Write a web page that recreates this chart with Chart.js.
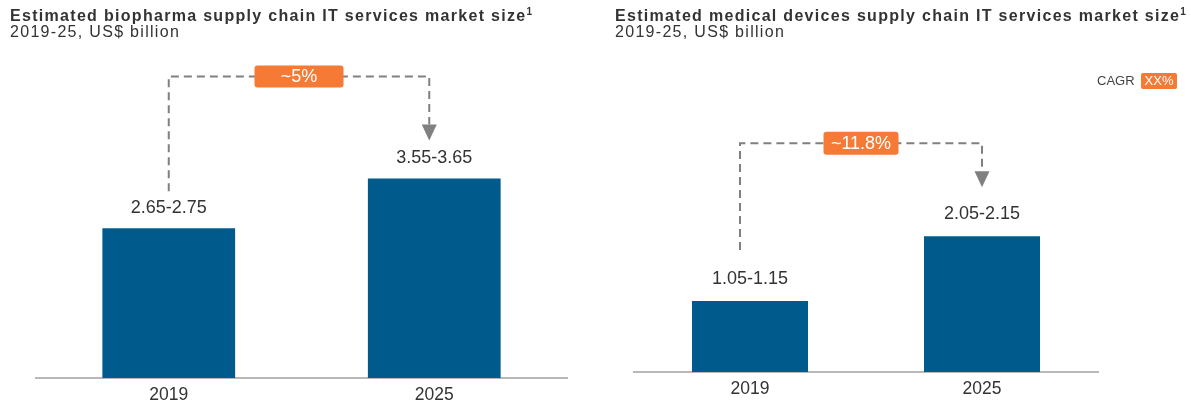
<!DOCTYPE html>
<html>
<head>
<meta charset="utf-8">
<script src="https://cdn.jsdelivr.net/npm/chart.js@4.4.1/dist/chart.umd.min.js"></script>
<style>
  html, body { margin: 0; padding: 0; background: #fff; }
  body { width: 1191px; height: 405px; position: relative; overflow: hidden; font-family: "Liberation Sans", Arial, sans-serif; color: #333; }
  .panel { position: absolute; top: 0; height: 417px; }
  .title { position: absolute; top: 6px; font-weight: bold; font-size: 16px; letter-spacing: 1.3px; white-space: nowrap; z-index: 2; line-height: 20px; }
  .title sup { font-size: 10px; letter-spacing: 0; line-height: 0; }
  .sub { position: absolute; top: 22px; font-size: 16px; letter-spacing: 1.3px; white-space: nowrap; z-index: 2; line-height: 20px; }
  .cagr { position: absolute; top: 73px; left: 1097px; font-size: 13px; line-height: 16px; color: #444; z-index: 2; }
  .cagr span { display: inline-block; background: #f47a36; color: #fff; padding: 0 4px; margin-left: 6px; font-size: 13px; border-radius: 2px; }
</style>
</head>
<body>
<div class="title" style="left:10px">Estimated biopharma supply chain IT services market size<sup>1</sup></div>
<div class="sub" style="left:10px">2019-25, US$ billion</div>
<div class="title" style="left:615px">Estimated medical devices supply chain IT services market size<sup>1</sup></div>
<div class="sub" style="left:615px">2019-25, US$ billion</div>
<div class="cagr">CAGR<span>XX%</span></div>

<div class="panel" style="left:0;width:595px"><canvas id="bioChart"></canvas></div>
<div class="panel" style="left:600px;width:591px"><canvas id="medChart"></canvas></div>

<script>
const years = ['2019', '2025'];
const bioValues = [2.70, 3.60];
const bioLabels = ['2.65-2.75', '3.55-3.65'];
const medValues = [1.10, 2.10];
const medLabels = ['1.05-1.15', '2.05-2.15'];
const bioCagr = '~5%';
const medCagr = '~11.8%';

const barColor = '#005a8c';
const orange = '#f47a36';
const dashGray = '#808080';

// value labels + dashed CAGR bracket with arrow
const bracketPlugin = {
  id: 'bracket',
  afterDatasetsDraw(chart, args, opts) {
    const ctx = chart.ctx;
    const bars = chart.getDatasetMeta(0).data;
    ctx.save();

    ctx.font = '18px "Liberation Sans", Arial, sans-serif';
    ctx.fillStyle = '#333';
    ctx.textAlign = 'center';
    ctx.textBaseline = 'middle';
    opts.labels.forEach((t, i) => {
      ctx.fillText(t, bars[i].x, bars[i].y - opts.labelGap);
    });

    const x0 = bars[0].x + opts.dx0;
    const x1 = bars[1].x + opts.dx1;
    const yTop = Math.min(bars[0].y, bars[1].y) - opts.rise;
    const yStart = bars[0].y - opts.startGap;
    const yTip = bars[1].y - opts.tipGap;
    const headH = 16;

    ctx.strokeStyle = dashGray;
    ctx.lineWidth = 2;
    ctx.setLineDash([8, 5]);
    ctx.beginPath();
    ctx.moveTo(x0, yStart);
    ctx.lineTo(x0, yTop);
    ctx.lineTo(x1, yTop);
    ctx.lineTo(x1, yTip - headH);
    ctx.stroke();
    ctx.setLineDash([]);

    ctx.fillStyle = dashGray;
    ctx.beginPath();
    ctx.moveTo(x1 - 7.5, yTip - headH);
    ctx.lineTo(x1 + 7.5, yTip - headH);
    ctx.lineTo(x1, yTip);
    ctx.closePath();
    ctx.fill();

    const mid = (x0 + x1) / 2;
    ctx.fillStyle = orange;
    ctx.beginPath();
    ctx.roundRect(mid - opts.boxW / 2, yTop - opts.boxH / 2, opts.boxW, opts.boxH, 3);
    ctx.fill();
    ctx.fillStyle = '#fff';
    ctx.font = '18px "Liberation Sans", Arial, sans-serif';
    ctx.fillText(opts.cagr, mid, yTop + 1);

    ctx.restore();
  }
};

function makeChart(id, values, labels, cagr, yMax, padding, tickPad, bracket) {
  const ctx = document.getElementById(id).getContext('2d');
  return new Chart(ctx, {
    type: 'bar',
    data: {
      labels: years,
      datasets: [{
        data: values,
        backgroundColor: barColor,
        barPercentage: 0.5,
        categoryPercentage: 1
      }]
    },
    options: {
      responsive: true,
      maintainAspectRatio: false,
      animation: false,
      layout: { padding },
      plugins: {
        legend: { display: false },
        tooltip: { enabled: false },
        bracket: Object.assign({ labels, cagr }, bracket)
      },
      scales: {
        x: {
          grid: { display: false, drawTicks: false },
          border: { display: true, color: '#b8b8b8', width: 2 },
          ticks: { color: '#333', font: { size: 17.5, family: '"Liberation Sans", Arial, sans-serif' }, padding: tickPad }
        },
        y: { display: false, min: 0, max: yMax }
      }
    },
    plugins: [bracketPlugin]
  });
}

makeChart('bioChart', bioValues, bioLabels, bioCagr, 5.05,
  { left: 36, right: 28, top: 98, bottom: 4 }, 7,
  { labelGap: 20, dx0: 0, dx1: -5, rise: 102, startGap: 37, tipGap: 38, boxW: 89, boxH: 22 });

makeChart('medChart', medValues, medLabels, medCagr, 4.1,
  { left: 34, right: 93, top: 107, bottom: 11 }, 6.5,
  { labelGap: 22, dx0: -10, dx1: 0, rise: 93, startGap: 51, tipGap: 49, boxW: 75, boxH: 23 });
</script>
</body>
</html>
